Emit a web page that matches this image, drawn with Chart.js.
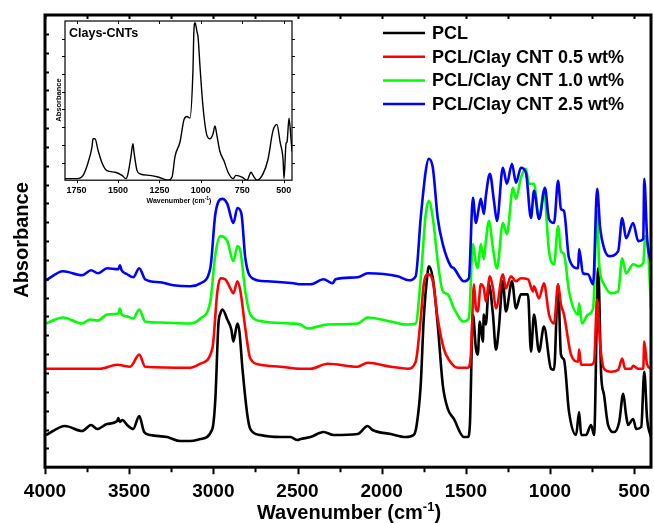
<!DOCTYPE html>
<html>
<head>
<meta charset="utf-8">
<script src="https://cdn.jsdelivr.net/npm/chart.js@4.4.1/dist/chart.umd.min.js"></script>
<style>
  html, body { margin: 0; padding: 0; background: #fff; }
  #wrap { position: relative; width: 654px; height: 523px; }
  #main { position: absolute; left: 0; top: 0; }
  #inset { position: absolute; left: 40px; top: 15px; }
</style>
</head>
<body>
<div id="wrap">
  <canvas id="main" width="654" height="523"></canvas>
  <canvas id="inset" width="262" height="192"></canvas>
</div>
<script>
// FTIR spectra: [wavenumber (cm-1), absorbance (offset, a.u.)]
const seriesNames = ['PCL', 'PCL/Clay CNT 0.5 wt%', 'PCL/Clay CNT 1.0 wt%', 'PCL/Clay CNT 2.5 wt%'];
const seriesColors = ['#000000', '#ff0000', '#00ff00', '#0000ff'];

const pcl = [
  [3994,0.32],[3881,0.41],[3780,0.36],[3726,0.42],[3690,0.38],[3631,0.43],[3571,0.46],[3565,0.49],
  [3555,0.45],[3540,0.47],[3512,0.42],[3476,0.38],[3440,0.51],[3411,0.35],[3375,0.32],[3274,0.30],
  [3196,0.26],[3137,0.26],[3077,0.28],[3006,0.38],[2988,0.68],[2970,1.42],[2958,1.53],[2946,1.57],
  [2917,1.47],[2893,1.37],[2881,1.25],[2857,1.43],[2845,1.35],[2827,0.98],[2798,0.52],[2780,0.38],
  [2720,0.32],[2601,0.30],[2542,0.30],[2500,0.27],[2482,0.28],[2423,0.30],[2345,0.35],[2286,0.32],
  [2143,0.33],[2083,0.41],[2054,0.37],[1946,0.33],[1857,0.30],[1810,0.32],[1792,0.42],[1768,0.82],
  [1750,1.48],[1726,1.95],[1720,2.00],[1696,1.88],[1667,1.42],[1637,0.82],[1607,0.58],[1571,0.48],
  [1512,0.30],[1488,0.30],[1476,0.42],[1458,1.52],[1440,1.18],[1429,1.12],[1417,1.45],[1399,1.25],
  [1393,1.52],[1381,1.42],[1363,1.82],[1339,1.52],[1321,1.17],[1304,1.38],[1280,1.85],[1262,1.55],
  [1226,1.85],[1202,1.58],[1173,1.72],[1131,1.72],[1113,1.15],[1095,1.52],[1065,1.15],[1036,1.40],
  [994,0.98],[976,0.97],[952,1.82],[935,1.12],[917,1.07],[887,0.55],[845,0.32],[827,0.55],
  [815,0.32],[786,0.32],[756,0.42],[738,0.32],[714,1.98],[696,0.92],[679,0.72],[655,0.42],
  [619,0.35],[589,0.45],[565,0.73],[548,0.52],[536,0.42],[506,0.48],[488,0.38],[458,0.40],
  [440,0.95],[423,0.48],[400,0.30]
];

const clayCnt05 = [
  [3994,0.98],[3673,0.98],[3571,1.02],[3494,1.00],[3440,1.12],[3405,1.00],[3137,0.99],[3077,1.03],
  [3006,1.18],[2976,1.75],[2958,1.88],[2929,1.87],[2899,1.78],[2881,1.73],[2857,1.85],[2839,1.75],
  [2810,1.38],[2780,1.08],[2720,1.02],[2601,1.00],[2482,0.98],[2423,0.98],[2321,1.03],[2143,1.00],
  [2083,1.04],[1946,1.00],[1845,0.98],[1798,1.05],[1768,1.48],[1750,1.82],[1726,1.92],[1696,1.85],
  [1667,1.48],[1631,1.18],[1601,1.07],[1548,0.99],[1488,0.99],[1470,1.12],[1452,1.82],[1440,1.58],
  [1429,1.55],[1411,1.82],[1393,1.78],[1381,1.65],[1357,1.90],[1339,1.78],[1321,1.58],[1280,1.92],
  [1262,1.78],[1232,1.90],[1202,1.85],[1173,1.88],[1131,1.87],[1101,1.75],[1095,1.80],[1065,1.68],
  [1036,1.83],[1006,1.52],[976,1.43],[952,1.82],[935,1.62],[917,1.52],[875,1.12],[833,1.05],
  [827,1.17],[815,1.02],[756,1.02],[738,1.05],[720,1.67],[702,1.22],[679,0.98],[637,0.95],
  [595,0.97],[571,1.08],[554,0.98],[518,0.98],[506,1.01],[476,0.98],[446,0.98],[440,1.25],
  [423,1.02],[400,0.98]
];

const clayCnt10 = [
  [3994,1.43],[3893,1.49],[3780,1.43],[3732,1.47],[3685,1.46],[3631,1.52],[3565,1.53],[3555,1.58],
  [3545,1.52],[3512,1.50],[3476,1.48],[3440,1.57],[3405,1.45],[3315,1.44],[3137,1.43],[3077,1.48],
  [3018,1.65],[2988,2.12],[2958,2.30],[2917,2.25],[2881,2.05],[2857,2.20],[2839,2.15],[2810,1.75],
  [2780,1.52],[2702,1.45],[2542,1.43],[2482,1.42],[2440,1.38],[2321,1.42],[2143,1.43],[2083,1.49],
  [1946,1.45],[1857,1.42],[1798,1.43],[1768,1.88],[1738,2.52],[1720,2.65],[1696,2.48],[1667,2.05],
  [1637,1.75],[1607,1.72],[1571,1.58],[1512,1.45],[1482,1.48],[1458,2.22],[1440,2.03],[1429,1.98],
  [1411,2.22],[1393,2.07],[1381,2.25],[1363,2.45],[1339,2.18],[1315,1.98],[1280,2.43],[1256,2.32],
  [1220,2.78],[1202,2.67],[1173,2.88],[1143,2.97],[1125,2.82],[1095,2.82],[1065,2.47],[1036,2.75],
  [1006,2.15],[976,2.02],[952,2.40],[935,2.15],[917,2.12],[887,1.75],[833,1.52],[827,1.63],
  [810,1.43],[774,1.52],[744,1.58],[720,2.55],[708,2.02],[679,1.82],[637,1.73],[595,1.75],
  [571,2.08],[548,1.93],[506,2.02],[476,2.00],[446,2.03],[434,2.30],[417,2.15],[400,1.58]
];

const clayCnt25 = [
  [3994,1.86],[3893,1.95],[3780,1.91],[3726,1.96],[3685,1.93],[3631,1.98],[3565,1.97],[3555,2.01],
  [3545,1.96],[3512,1.92],[3476,1.89],[3440,1.98],[3405,1.87],[3315,1.84],[3238,1.81],[3137,1.80],
  [3077,1.83],[3018,1.98],[2988,2.52],[2946,2.67],[2917,2.62],[2881,2.43],[2857,2.58],[2833,2.52],
  [2810,2.08],[2768,1.88],[2679,1.85],[2524,1.83],[2482,1.82],[2423,1.82],[2345,1.87],[2292,1.83],
  [2274,1.87],[2143,1.89],[2083,1.93],[1905,1.90],[1839,1.86],[1798,1.90],[1768,2.48],[1738,2.95],
  [1720,3.07],[1696,2.98],[1667,2.48],[1637,2.22],[1589,2.00],[1571,1.98],[1512,1.85],[1482,1.88],
  [1458,2.68],[1440,2.43],[1423,2.58],[1411,2.67],[1393,2.52],[1381,2.70],[1357,2.92],[1333,2.65],
  [1315,2.45],[1280,2.98],[1256,2.82],[1226,3.02],[1202,2.83],[1173,2.98],[1143,2.93],[1113,2.48],
  [1095,2.75],[1065,2.47],[1030,2.78],[1006,2.47],[976,2.43],[952,2.85],[935,2.57],[917,2.55],
  [887,2.08],[833,1.98],[827,2.17],[804,1.93],[774,1.92],[744,1.82],[720,2.77],[702,2.38],
  [679,2.18],[649,2.10],[595,2.15],[571,2.48],[548,2.28],[506,2.43],[476,2.25],[446,2.27],
  [440,2.87],[423,2.28],[400,2.02]
];

// Inset: Clays-CNTs spectrum
const claysCnts = [
  [1820,0.01],[1748,0.01],[1711,0.03],[1681,0.11],[1657,0.21],[1651,0.26],[1639,0.26],[1621,0.19],
  [1597,0.11],[1567,0.06],[1518,0.05],[1476,0.03],[1452,0.01],[1440,0.04],[1422,0.15],[1410,0.23],
  [1404,0.18],[1385,0.06],[1367,0.04],[1307,0.03],[1259,0.02],[1198,0.00],[1174,0.02],[1156,0.15],
  [1126,0.24],[1102,0.38],[1084,0.40],[1066,0.39],[1048,0.68],[1042,0.94],[1035,0.99],[1023,0.93],
  [1017,0.90],[1005,0.71],[987,0.46],[963,0.28],[945,0.26],[927,0.29],[915,0.34],[903,0.28],
  [885,0.18],[860,0.12],[836,0.05],[806,0.01],[788,0.03],[752,0.02],[722,0.00],[697,0.05],
  [685,0.03],[661,0.00],[625,0.04],[595,0.13],[565,0.31],[541,0.35],[522,0.24],[504,0.13],
  [498,0.01],[486,0.23],[480,0.24],[468,0.39],[456,0.26],[450,0.18]
];

const xTickLabels = [4000, 3500, 3000, 2500, 2000, 1500, 1000, 500];
const xMinorTicks = [3750, 3250, 2750, 2250, 1750, 1250, 750];
const insetTickLabels = [1750, 1500, 1250, 1000, 750, 500];

const FONT = '"Liberation Sans", Arial, Helvetica, sans-serif';
const toXY = arr => arr.map(p => ({ x: p[0], y: p[1] }));
// keep the plot box fixed by the layout padding alone
const noEdgePadding = s => { s.paddingLeft = 0; s.paddingRight = 0; };

const spectra = [pcl, clayCnt05, clayCnt10, clayCnt25];
const datasets = spectra.map((s, i) => ({
  label: seriesNames[i],
  data: toXY(s),
  borderColor: seriesColors[i],
  backgroundColor: seriesColors[i],
  borderWidth: 2.6,
  pointRadius: 0,
  fill: false,
  cubicInterpolationMode: 'monotone',
  order: spectra.length - 1 - i
}));

// Draws the title text with a raised "-1" exponent
function drawWavenumberTitle(ctx, cx, baseline, size, supSize, rise) {
  const a = 'Wavenumber (cm', sup = '-1', b = ')';
  ctx.font = `bold ${size}px ${FONT}`;
  const wa = ctx.measureText(a).width, wb = ctx.measureText(b).width;
  ctx.font = `bold ${supSize}px ${FONT}`;
  const ws = ctx.measureText(sup).width;
  let x = cx - (wa + ws + wb) / 2;
  ctx.textAlign = 'left';
  ctx.textBaseline = 'alphabetic';
  ctx.font = `bold ${size}px ${FONT}`;
  ctx.fillText(a, x, baseline); x += wa;
  ctx.font = `bold ${supSize}px ${FONT}`;
  ctx.fillText(sup, x, baseline - rise); x += ws;
  ctx.font = `bold ${size}px ${FONT}`;
  ctx.fillText(b, x, baseline);
}

const mainDecor = {
  id: 'mainDecor',
  afterDraw(chart) {
    const { ctx, chartArea: ca, scales: { x, y } } = chart;
    ctx.save();
    ctx.strokeStyle = '#000';
    ctx.fillStyle = '#000';
    // ticks: bottom outward, top inward
    ctx.lineWidth = 2;
    ctx.beginPath();
    xTickLabels.concat(xMinorTicks).forEach(v => {
      const px = Math.round(x.getPixelForValue(v)) + 0.5;
      const major = v % 500 === 0;
      ctx.moveTo(px, ca.bottom); ctx.lineTo(px, ca.bottom + (major ? 7 : 5));
      ctx.moveTo(px, ca.top); ctx.lineTo(px, ca.top + 4);
    });
    // left ticks, inward
    for (let i = 1; i < 24; i++) {
      const py = Math.round(y.getPixelForValue(i * y.max / 24)) + 0.5;
      ctx.moveTo(ca.left, py); ctx.lineTo(ca.left + 4, py);
    }
    ctx.stroke();
    // frame
    ctx.lineWidth = 3;
    ctx.strokeRect(ca.left, ca.top, ca.right - ca.left, ca.bottom - ca.top);

    // legend
    const lx0 = 383, lx1 = 425, ly0 = 33, dy = 23.7;
    seriesNames.forEach((name, i) => {
      const ly = ly0 + i * dy;
      ctx.strokeStyle = seriesColors[i];
      ctx.lineWidth = 2.5;
      ctx.beginPath(); ctx.moveTo(lx0, ly); ctx.lineTo(lx1, ly); ctx.stroke();
      ctx.fillStyle = '#000';
      ctx.font = `bold 18px ${FONT}`;
      ctx.textAlign = 'left';
      ctx.textBaseline = 'middle';
      ctx.fillText(name, 432, ly + 1);
    });

    // axis titles
    ctx.fillStyle = '#000';
    drawWavenumberTitle(ctx, 349, 519, 20, 13, 8);
    ctx.translate(22, 240);
    ctx.rotate(-Math.PI / 2);
    ctx.font = `bold 20px ${FONT}`;
    ctx.textAlign = 'center';
    ctx.textBaseline = 'middle';
    ctx.fillText('Absorbance', 0, 0);
    ctx.restore();
  }
};

new Chart(document.getElementById('main'), {
  type: 'line',
  data: { datasets },
  options: {
    responsive: false,
    animation: false,
    devicePixelRatio: 1,
    layout: { padding: { left: 45, top: 15, right: 3, bottom: 7 } },
    plugins: { legend: { display: false }, tooltip: { enabled: false } },
    scales: {
      x: {
        type: 'linear', reverse: true, min: 400, max: 4000,
        afterBuildTicks: s => { s.ticks = xTickLabels.map(v => ({ value: v })); },
        afterFit: noEdgePadding,
        ticks: {
          color: '#000', padding: 13, maxRotation: 0, autoSkip: false,
          font: { family: FONT, weight: 'bold', size: 19 },
          callback: v => String(v)
        },
        grid: { display: false, drawTicks: false },
        border: { display: false }
      },
      y: { display: false, min: 0, max: 4.5 }
    }
  },
  plugins: [mainDecor]
});

const insetDecor = {
  id: 'insetDecor',
  afterDraw(chart) {
    const { ctx, chartArea: ca, scales: { x } } = chart;
    ctx.save();
    ctx.strokeStyle = '#000';
    ctx.lineWidth = 1;
    ctx.beginPath();
    insetTickLabels.forEach(v => {
      const px = Math.round(x.getPixelForValue(v)) + 0.5;
      ctx.moveTo(px, ca.bottom); ctx.lineTo(px, ca.bottom + 3);
      ctx.moveTo(px, ca.top); ctx.lineTo(px, ca.top + 3);
    });
    const h = ca.bottom - ca.top;
    for (let i = 1; i < 9; i++) {
      const py = Math.round(ca.bottom - i * h / 9) + 0.5;
      ctx.moveTo(ca.left, py); ctx.lineTo(ca.left - 3, py);
      ctx.moveTo(ca.right, py); ctx.lineTo(ca.right + 3, py);
    }
    ctx.stroke();
    ctx.lineWidth = 1.2;
    ctx.strokeRect(ca.left, ca.top, ca.right - ca.left, ca.bottom - ca.top);

    ctx.fillStyle = '#000';
    ctx.font = `bold 12.5px ${FONT}`;
    ctx.textAlign = 'left';
    ctx.textBaseline = 'alphabetic';
    ctx.fillText('Clays-CNTs', 29, 22);

    drawWavenumberTitle(ctx, 139, 188, 7, 5, 3);

    ctx.translate(19, 85);
    ctx.rotate(-Math.PI / 2);
    ctx.font = `bold 7.5px ${FONT}`;
    ctx.textAlign = 'center';
    ctx.textBaseline = 'middle';
    ctx.fillText('Absorbance', 0, 0);
    ctx.restore();
  }
};

new Chart(document.getElementById('inset'), {
  type: 'line',
  data: {
    datasets: [{
      label: 'Clays-CNTs',
      data: toXY(claysCnts),
      borderColor: '#000',
      borderWidth: 1.4,
      pointRadius: 0,
      fill: false,
      cubicInterpolationMode: 'monotone'
    }]
  },
  options: {
    responsive: false,
    animation: false,
    devicePixelRatio: 1,
    layout: { padding: { left: 25, top: 6, right: 10, bottom: 6 } },
    plugins: { legend: { display: false }, tooltip: { enabled: false } },
    scales: {
      x: {
        type: 'linear', reverse: true, min: 450, max: 1820,
        afterBuildTicks: s => { s.ticks = insetTickLabels.map(v => ({ value: v })); },
        afterFit: noEdgePadding,
        ticks: {
          color: '#000', padding: 5, maxRotation: 0, autoSkip: false,
          font: { family: FONT, weight: 'bold', size: 9 },
          callback: v => String(v)
        },
        grid: { display: false, drawTicks: false },
        border: { display: false }
      },
      y: { display: false, min: 0, max: 1.0 }
    }
  },
  plugins: [insetDecor]
});
</script>
</body>
</html>
